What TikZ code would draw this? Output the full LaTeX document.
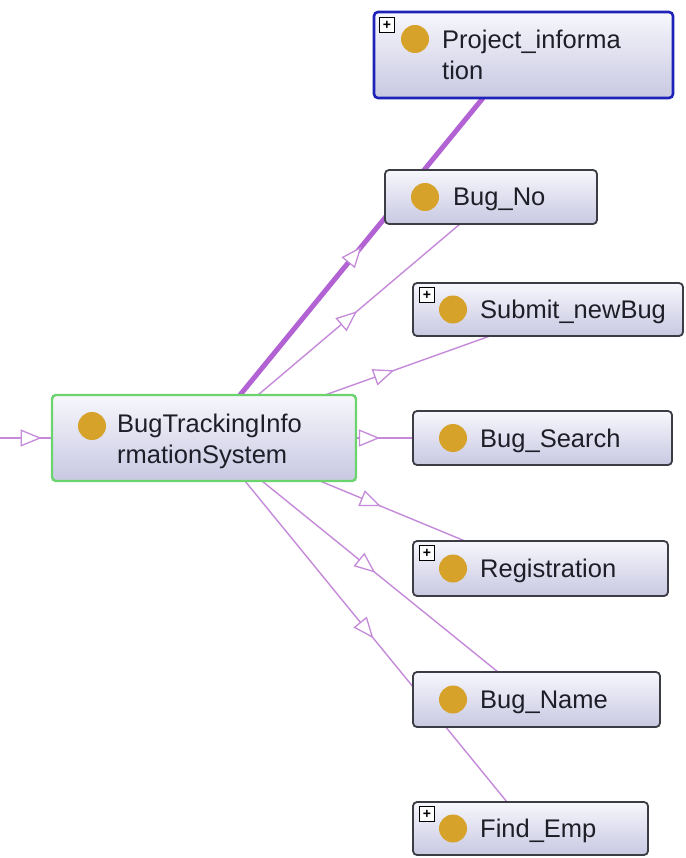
\documentclass[tikz,border=0pt]{standalone}
\usepackage{fontspec}
\setmainfont{Liberation Sans}
\usetikzlibrary{arrows.meta,decorations.markings,calc}
\pgfdeclarelayer{back}
\pgfdeclarelayer{bg}
\pgfsetlayers{back,bg,main}

\definecolor{edgec}{HTML}{C58AD9}
\definecolor{thickc}{HTML}{B262D2}
\definecolor{dotc}{HTML}{D6A22A}
\definecolor{txtc}{HTML}{1E1E28}
\definecolor{bordc}{HTML}{3C3C44}
\definecolor{projc}{HTML}{1E22B8}
\definecolor{mainc}{HTML}{6CD46C}
\definecolor{topc}{HTML}{F7F7FD}
\definecolor{botc}{HTML}{C8C8E2}

\tikzset{
  cls/.style={draw=bordc, line width=1.8pt, rounded corners=4pt, top color=topc, bottom color=botc,
              anchor=north west, inner sep=0pt, outer sep=0pt},
  lbl/.style={anchor=base west, font=\fontsize{25.5}{31}\selectfont, text=txtc, inner sep=0pt, align=left},
  dot/.style={fill=dotc},
  plusbox/.style={draw=black, line width=0.9pt, fill=white, minimum size=15pt, inner sep=0pt,
                  anchor=north west, font=\bfseries\fontsize{14}{14}\selectfont},
  isa/.style={draw=edgec, line width=1.4pt, postaction={decorate},
              decoration={markings, mark=at position #1 with
              {\arrow{Triangle[fill=white, color=edgec, length=21pt, width=17pt, line width=1.3pt]}}}},
}

\begin{document}
\begin{tikzpicture}[x=1pt, y=-1pt]
\begin{pgfonlayer}{back}
\fill[white] (0,0) rectangle (685,858);
\end{pgfonlayer}
\useasboundingbox (0,0) rectangle (685,858);

% class boxes
\node[cls, draw=projc, line width=2.6pt, minimum width=299pt, minimum height=86pt] (proj) at (374,12) {};
\node[cls, minimum width=212pt, minimum height=54pt] (bugno) at (385,170) {};
\node[cls, minimum width=270pt, minimum height=53pt] (submit) at (413,283) {};
\node[cls, minimum width=259pt, minimum height=54pt] (search) at (413,411) {};
\node[cls, minimum width=255pt, minimum height=55pt] (reg) at (413,541) {};
\node[cls, minimum width=247pt, minimum height=55pt] (bname) at (413,672) {};
\node[cls, minimum width=235pt, minimum height=53pt] (femp) at (413,802) {};
\node[cls, draw=mainc, line width=2.4pt, minimum width=304pt, minimum height=86pt] (main) at (52,395) {};
\coordinate (inL) at (0,438);

% dots
\fill[dot] ([xshift=41pt,yshift=16pt]proj.west) circle (14pt);
\fill[dot] ([xshift=40pt]bugno.west) circle (14pt);
\fill[dot] ([xshift=40pt]submit.west) circle (14pt);
\fill[dot] ([xshift=40pt]search.west) circle (14pt);
\fill[dot] ([xshift=40pt]reg.west) circle (14pt);
\fill[dot] ([xshift=40pt]bname.west) circle (14pt);
\fill[dot] ([xshift=40pt]femp.west) circle (14pt);
\fill[dot] ([xshift=40pt,yshift=12pt]main.west) circle (14pt);

% labels (base anchor = last line)
\node[lbl] (tproj) at ([xshift=68pt,yshift=-25pt]proj.west) {Project\_informa\\tion};
\node[lbl] (tbugno) at ([xshift=68pt,yshift=-9pt]bugno.west) {Bug\_No};
\node[lbl] (tsubmit) at ([xshift=67pt,yshift=-9pt]submit.west) {Submit\_newBug};
\node[lbl] (tsearch) at ([xshift=67pt,yshift=-9pt]search.west) {Bug\_Search};
\node[lbl] (treg) at ([xshift=67pt,yshift=-9pt]reg.west) {Registration};
\node[lbl] (tbname) at ([xshift=67pt,yshift=-9pt]bname.west) {Bug\_Name};
\node[lbl] (tfemp) at ([xshift=67pt,yshift=-9pt]femp.west) {Find\_Emp};
\node[lbl] (tmain) at ([xshift=65pt,yshift=-25pt]main.west) {BugTrackingInfo\\rmationSystem};

% expand boxes
\node[plusbox] (pproj) at ([xshift=5pt,yshift=-5pt]proj.north west) {+};
\node[plusbox] (psubmit) at ([xshift=6pt,yshift=-4pt]submit.north west) {+};
\node[plusbox] (preg) at ([xshift=6pt,yshift=-4pt]reg.north west) {+};
\node[plusbox] (pfemp) at ([xshift=6pt,yshift=-4pt]femp.north west) {+};

% connectors
\begin{pgfonlayer}{bg}
\draw[isa=0.5, draw=thickc, line width=5pt] ($(main.north west)+(188,0)$) -- ($(proj.south west)+(109,0)$);
\draw[isa=0.49] ($(main.north west)+(206,0)$) -- ($(bugno.south west)+(75,0)$);
\draw[isa=0.42] ($(main.north west)+(273,0)$) -- ($(submit.south west)+(77,0)$);
\draw[isa=0.42] (main.east) -- (search.west);
\draw[isa=0.42] ($(main.south west)+(268,0)$) -- ($(reg.north west)+(52,0)$);
\draw[isa=0.48] ($(main.south west)+(210,0)$) -- ($(bname.north west)+(85,0)$);
\draw[isa=0.49] ($(main.south west)+(193,0)$) -- ($(femp.north west)+(94,0)$);
\draw[isa=0.8] (inL) -- (main.west);
\end{pgfonlayer}
\end{tikzpicture}
\end{document}
